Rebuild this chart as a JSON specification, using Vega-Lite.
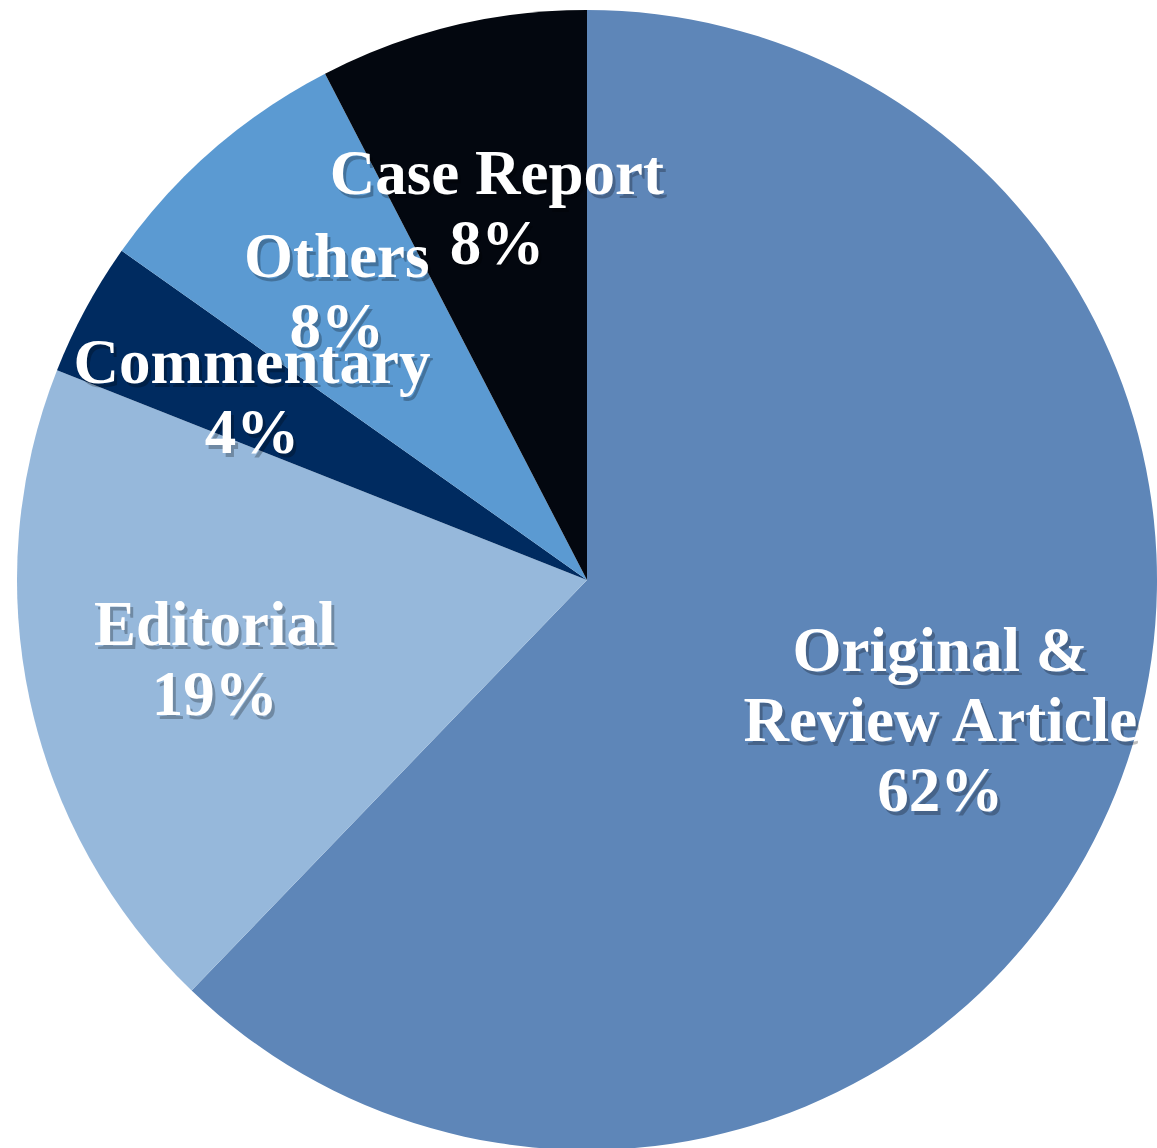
{
  "$schema": "https://vega.github.io/schema/vega-lite/v6.json",
  "width": 1140,
  "height": 1136,
  "autosize": {"type": "none"},
  "padding": {"left": 17, "top": 12, "right": 0, "bottom": 0},
  "background": "white",
  "view": {"stroke": null},
  "data": {
    "values": [
      {"type": "Original & Review Article", "share": 62.2, "label": "Original &\nReview Article\n62%", "order": 1},
      {"type": "Editorial", "share": 18.8, "label": "Editorial\n19%", "order": 2},
      {"type": "Commentary", "share": 3.8, "label": "Commentary\n4%", "order": 3},
      {"type": "Others", "share": 7.6, "label": "Others\n8%", "order": 4},
      {"type": "Case Report", "share": 7.6, "label": "Case Report\n8%", "order": 5}
    ]
  },
  "encoding": {
    "theta": {"field": "share", "type": "quantitative", "stack": true},
    "order": {"field": "order", "type": "quantitative"}
  },
  "layer": [
    {
      "mark": {"type": "arc", "outerRadius": 570},
      "encoding": {
        "color": {
          "field": "type",
          "type": "nominal",
          "legend": null,
          "scale": {
            "domain": ["Original & Review Article", "Editorial", "Commentary", "Others", "Case Report"],
            "range": ["#5E86B8", "#96B8DB", "#002B60", "#5B9AD2", "#03070F"]
          }
        }
      }
    },
    {
      "mark": {
        "type": "text", "radius": 381, "font": "Liberation Serif", "fontWeight": "bold",
        "fontSize": 63, "lineHeight": 70, "lineBreak": "\n", "align": "center", "baseline": "middle",
        "color": "#000000", "opacity": 0.25, "dx": 3, "dy": -66
      },
      "encoding": {"text": {"condition": {"test": "datum.order == 1", "field": "label"}, "value": ""}}
    },
    {
      "mark": {
        "type": "text", "radius": 381, "font": "Liberation Serif", "fontWeight": "bold",
        "fontSize": 63, "lineHeight": 70, "lineBreak": "\n", "align": "center", "baseline": "middle",
        "color": "#000000", "opacity": 0.25, "dx": 3, "dy": -31
      },
      "encoding": {"text": {"condition": {"test": "datum.order != 1", "field": "label"}, "value": ""}}
    },
    {
      "mark": {
        "type": "text", "radius": 381, "font": "Liberation Serif", "fontWeight": "bold",
        "fontSize": 63, "lineHeight": 70, "lineBreak": "\n", "align": "center", "baseline": "middle",
        "color": "#FFFFFF", "dy": -70
      },
      "encoding": {"text": {"condition": {"test": "datum.order == 1", "field": "label"}, "value": ""}}
    },
    {
      "mark": {
        "type": "text", "radius": 381, "font": "Liberation Serif", "fontWeight": "bold",
        "fontSize": 63, "lineHeight": 70, "lineBreak": "\n", "align": "center", "baseline": "middle",
        "color": "#FFFFFF", "dy": -35
      },
      "encoding": {"text": {"condition": {"test": "datum.order != 1", "field": "label"}, "value": ""}}
    }
  ]
}
